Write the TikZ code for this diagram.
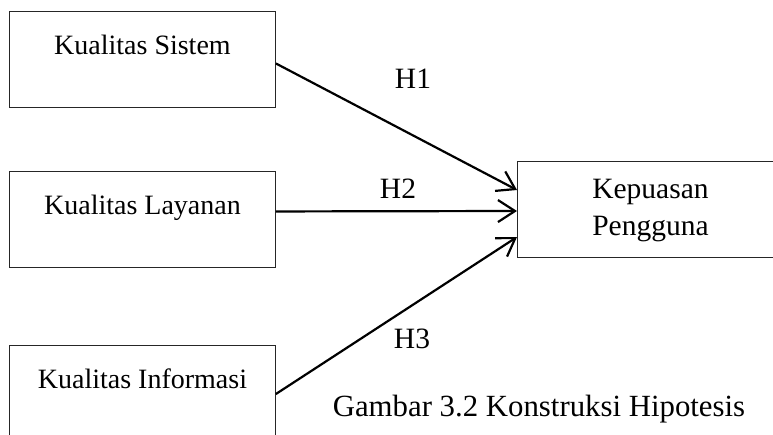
\documentclass[tikz,border=0pt]{standalone}
\usepackage{fontspec}
\setmainfont{Liberation Serif}
\usetikzlibrary{arrows.meta,calc}
\begin{document}
\begin{tikzpicture}[x=1pt,y=-1pt,
  every node/.style={font=\fontsize{29.5}{37}\selectfont},
  varbox/.style={draw=black!85,line width=0.9pt,minimum width=266pt,inner sep=0pt,
    font=\fontsize{28}{37}\selectfont,text height=43pt,text depth=53pt},
  resbox/.style={draw=black!85,line width=0.9pt,minimum width=266pt,inner sep=0pt,
    align=center,text height=74pt,text depth=22pt},
  link/.style={line width=2.2pt,-{Straight Barb[length=17pt,width=22pt,line width=2.2pt]}},
  hlabel/.style={anchor=base,inner sep=0pt}]
\useasboundingbox (0,0) rectangle (773,434);
\fill[white] (0,0) rectangle (773,434);
\node[varbox,anchor=north west] (s) at (9,11) {Kualitas Sistem};
\node[varbox,anchor=north west] (l) at (9,171) {Kualitas Layanan};
\node[varbox,anchor=north west] (i) at (9,345) {Kualitas Informasi};
\node[resbox,anchor=north west] (k) at (517,161) {Kepuasan\\Pengguna};
\draw[link] ($(s.east)+(0,4)$) -- ($(k.north west)+(0,29)$);
\draw[link] ($(l.east)+(0,-8)$) -- ($(k.north west)+(0,50)$);
\draw[link] ($(i.north east)+(0,49)$) -- ($(k.north west)+(0,76)$);
\node[hlabel] (h1) at (413,88) {H1};
\node[hlabel] (h2) at (398,198) {H2};
\node[hlabel] (h3) at (412,348) {H3};
\node[hlabel,font=\fontsize{30.8}{37}\selectfont] (cap) at (539,416) {Gambar 3.2 Konstruksi Hipotesis};
\end{tikzpicture}
\end{document}
